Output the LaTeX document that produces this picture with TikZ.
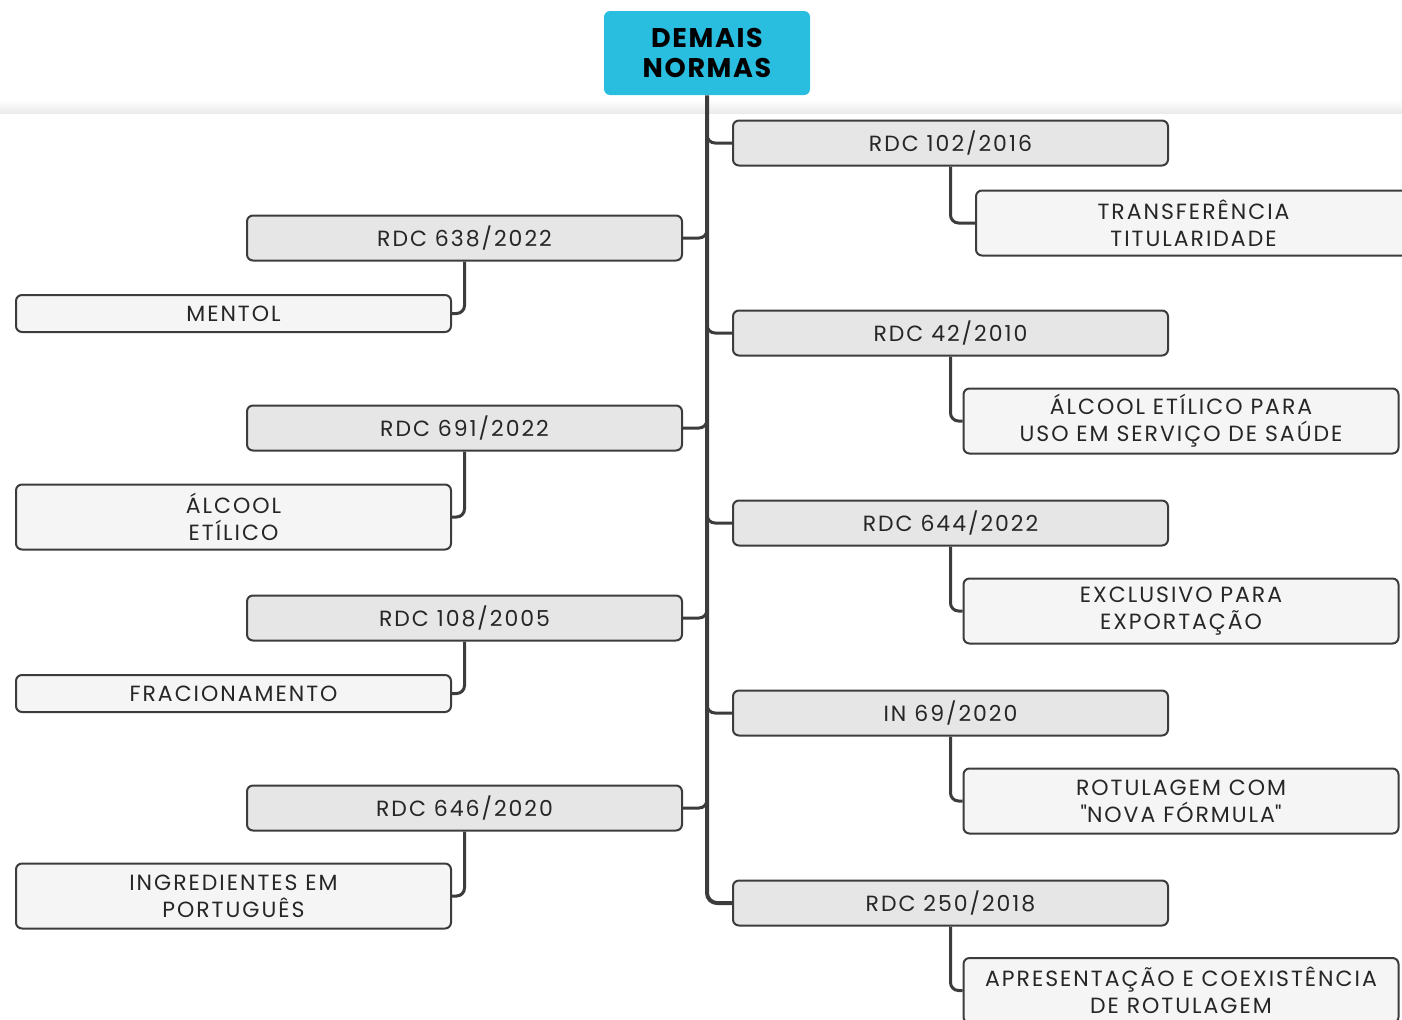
\documentclass[tikz,border=0pt]{standalone}
\usepackage{fontspec}
\setmainfont{Poppins}[LetterSpace=9]
\usetikzlibrary{positioning}

\definecolor{titlecyan}{RGB}{41,189,224}
\definecolor{normafill}{RGB}{230,230,230}
\definecolor{temafill}{RGB}{245,245,245}
\definecolor{linegray}{RGB}{60,60,60}

\tikzset{
  norma/.style={draw=linegray, line width=1pt, fill=normafill, rounded corners=3pt,
    minimum width=217.5pt, minimum height=22.5pt, inner sep=0pt, align=center,
    font=\fontsize{11}{13.5}\selectfont, text=black!85},
  tema/.style={norma, fill=temafill, minimum height=32.5pt},
  temaone/.style={tema, minimum height=18.5pt},
  ramo/.style={draw=linegray, line width=1.5pt, rounded corners=4pt},
  tronco/.style={draw=linegray, line width=2pt, rounded corners=5pt},
}

\begin{document}
\begin{tikzpicture}[x=0.5pt,y=-0.5pt]
    \useasboundingbox (0,0) rectangle (1402,1019);
    \clip (0,0) rectangle (1402,1019);

    %Shape: faint band under the title
    \shade[top color=white, bottom color=black!8] (0,100) rectangle (1402,113);

    % Title Node
    \node (titulo) at (707,53) [fill=titlecyan, rounded corners=3pt, minimum width=103pt,
      minimum height=42pt, align=center,
      font=\fontsize{13.5}{15}\selectfont\bfseries\addfontfeature{LetterSpace=6}]
      {DEMAIS\\NORMAS};

    % Right side: normas
    \node (rdc102) at (950.5,143) [norma] {RDC 102/2016};
    \node (rdc42)  at (950.5,333) [norma] {RDC 42/2010};
    \node (rdc644) at (950.5,523) [norma] {RDC 644/2022};
    \node (in69)   at (950.5,713) [norma] {IN 69/2020};
    \node (rdc250) at (950.5,903) [norma] {RDC 250/2018};

    % Left side: normas
    \node (rdc638) at (464.5,238) [norma] {RDC 638/2022};
    \node (rdc691) at (464.5,428) [norma] {RDC 691/2022};
    \node (rdc108) at (464.5,618) [norma] {RDC 108/2005};
    \node (rdc646) at (464.5,808) [norma] {RDC 646/2020};

    % Right side: temas
    \node (transf)   at (1193.5,223) [tema] {TRANSFERÊNCIA\\TITULARIDADE};
    \node (saude)    at (1181,421)   [tema] {ÁLCOOL ETÍLICO PARA\\USO EM SERVIÇO DE SAÚDE};
    \node (export)   at (1181,611)   [tema] {EXCLUSIVO PARA\\EXPORTAÇÃO};
    \node (formula)  at (1181,801)   [tema] {ROTULAGEM COM\\\textquotedbl NOVA FÓRMULA\textquotedbl};
    \node (rotulo)   at (1181,990.5) [tema] {APRESENTAÇÃO E COEXISTÊNCIA\\DE ROTULAGEM};

    % Left side: temas
    \node (mentol)   at (233.5,313.5) [temaone] {MENTOL};
    \node (alcool)   at (233.5,517)   [tema] {ÁLCOOL\\ETÍLICO};
    \node (fracion)  at (233.5,693.5) [temaone] {FRACIONAMENTO};
    \node (ingred)   at (233.5,896)   [tema] {INGREDIENTES EM\\PORTUGUÊS};

    % Trunk
    \draw[tronco] (titulo.south) |- (rdc250.west);

    % Branches to the right
    \foreach \n in {rdc102,rdc42,rdc644,in69}
      \draw[ramo] ([yshift=6pt]titulo.south |- \n.west) |- (\n.west);

    % Branches to the left
    \foreach \n in {rdc638,rdc691,rdc108,rdc646}
      \draw[ramo] (\n.east) -| ([yshift=6pt]titulo.south |- \n.east);

    % Norma to tema
    \draw[ramo] (rdc102.south) |- (transf.west);
    \draw[ramo] (rdc42.south)  |- (saude.west);
    \draw[ramo] (rdc644.south) |- (export.west);
    \draw[ramo] (in69.south)   |- (formula.west);
    \draw[ramo] (rdc250.south) |- (rotulo.west);
    \draw[ramo] (rdc638.south) |- (mentol.east);
    \draw[ramo] (rdc691.south) |- (alcool.east);
    \draw[ramo] (rdc108.south) |- (fracion.east);
    \draw[ramo] (rdc646.south) |- (ingred.east);

\end{tikzpicture}
\end{document}
